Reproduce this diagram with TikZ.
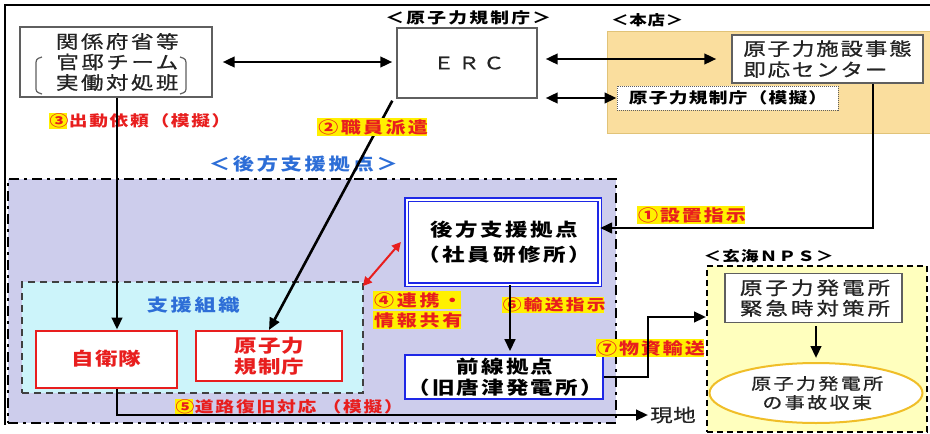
\documentclass[tikz,border=0pt]{standalone}
\usepackage{fontspec}
\setmainfont{Noto Sans CJK JP}[FakeStretch=1.25]
\usetikzlibrary{arrows.meta,shapes.geometric,calc}
\definecolor{honten}{RGB}{250,222,158}
\definecolor{hontenedge}{RGB}{225,195,120}
\definecolor{lav}{RGB}{205,205,236}
\definecolor{cyanbg}{RGB}{204,244,250}
\definecolor{npsbg}{RGB}{255,255,190}
\definecolor{jred}{RGB}{232,30,30}
\definecolor{jblue}{RGB}{45,110,215}
\definecolor{bblue}{RGB}{30,40,230}
\definecolor{hl}{RGB}{255,240,0}
\definecolor{ellc}{RGB}{240,190,40}
\definecolor{gbox}{RGB}{95,95,95}
\definecolor{gtext}{RGB}{35,35,35}
\newcommand\jf[3]{\fontsize{#1}{#2}\selectfont\addfontfeatures{LetterSpace=#3}}
\newcommand\jg[3]{\fontsize{#1}{#2}\selectfont\addfontfeatures{LetterSpace=#3,FakeBold=0.8}}
\newcommand\tk[1]{\kern-#1em}
\begin{document}
\begin{tikzpicture}[x=1pt,y=-1pt,
  every node/.style={inner sep=0pt,align=center},
  arr/.style={line width=2.6pt,-{Triangle[length=12pt,width=10.5pt]}},
  dbl/.style={line width=2.6pt,{Triangle[length=12pt,width=10.5pt]}-{Triangle[length=12pt,width=10.5pt]}},
  graybox/.style={draw=gbox,line width=1.4pt,fill=white,text=gtext},
  redbox/.style={draw=jred,line width=2pt,fill=white,text=jred},
  label/.style={fill=hl,inner sep=1pt,text=jred},
  reds/.style={text=jred},
  blues/.style={text=jblue}]
\useasboundingbox (0,0) rectangle (930,434);
\fill[white] (0,0) rectangle (930,434);
% frame
\draw[line width=2pt] (930,5) -- (5,5) -- (5,425);
% areas
\node[fill=honten,draw=hontenedge,line width=1pt,minimum width=324,minimum height=102] (hon) at (769,82) {};
\node[fill=lav,draw=black,line width=2.4pt,dash pattern=on 10pt off 5pt on 3pt off 5pt,minimum width=608,minimum height=244] (koho) at (312,301) {};
\node[fill=cyanbg,draw=black!75,line width=1.8pt,dash pattern=on 7pt off 5pt,minimum width=341,minimum height=111] (sosiki) at (192.5,337.5) {};
\node[fill=npsbg,draw=black,line width=2pt,dash pattern=on 6pt off 4pt,minimum width=220,minimum height=166] (nps) at (817,349) {};
% area labels
\node[font=\bfseries\jf{15}{18}{15}] (lblnra) at (467,18) {＜原子力規制庁＞\tk{0.15}};
\node[font=\bfseries\jf{14}{18}{5},anchor=west] (lblhonten) at (611,20) {＜本店＞};
\node[blues,font=\bfseries\jf{17}{20}{16}] (lblkoho) at (302,164) {＜後方支援拠点＞\tk{0.16}};
\node[blues,font=\bfseries\jf{17}{21}{15}] (lblsosiki) at (192,305) {支援組織\tk{0.15}};
\node[font=\bfseries\jf{14}{18}{9}] (lblnps) at (768,256) {＜玄海ＮＰＳ＞\tk{0.09}};
% boxes
\node[graybox,minimum width=192,minimum height=70,font=\jg{18}{20.5}{14}] (kan) at (116,62) {関係府省等\tk{0.14}\\官邸チーム\tk{0.14}\\実働対処班\tk{0.14}};
\draw[gbox,line width=1.2pt] (42,57) .. controls (36,59) .. (36,66) -- (36,86) .. controls (36,92) .. (42,94);
\draw[gbox,line width=1.2pt] (180,57) .. controls (186,59) .. (186,66) -- (186,86) .. controls (186,92) .. (180,94);
\node[graybox,minimum width=140,minimum height=70,font=\jg{17}{20}{22}] (erc) at (467,63) {ＥＲＣ\tk{0.22}};
\node[graybox,minimum width=191,minimum height=48,align=left,font=\jg{18}{21}{10}] (cen) at (827.5,59) {原子力施設事態\\即応センター};
\node[draw=gbox,line width=1pt,densely dotted,fill=white,minimum width=221,minimum height=24,font=\bfseries\jf{15}{16}{8}] (dot) at (727.5,98) {原子力規制庁（模擬）\tk{0.08}};
\node[draw=bblue,line width=1.2pt,double=white,double distance=2pt,fill=white,minimum width=193,minimum height=85,font=\bfseries\jf{18}{25}{14}] (kb) at (503,242) {後方支援拠点\tk{0.14}\\（社員研修所）\tk{0.14}};
\node[draw=bblue,line width=1.6pt,fill=white,minimum width=198,minimum height=44,font=\bfseries\jf{18}{21}{12}] (zen) at (504,377) {前線拠点\tk{0.12}\\（旧唐津発電所）\tk{0.12}};
\node[redbox,minimum width=141,minimum height=57,font=\bfseries\jf{18}{21}{5}] (jei) at (106,359) {自衛隊\tk{0.05}};
\node[redbox,minimum width=146,minimum height=50,font=\bfseries\jf{18}{21}{5}] (kisei) at (269,356) {原子力\tk{0.05}\\規制庁\tk{0.05}};
\node[graybox,minimum width=177,minimum height=49,font=\jg{18}{20.5}{17}] (kin) at (813.5,298) {原子力発電所\tk{0.17}\\緊急時対策所\tk{0.17}};
\node[ellipse,draw=ellc,line width=2pt,fill=white,text=gtext,minimum width=213,minimum height=60,font=\jg{16}{19}{15}] (ell) at (816,393) {原子力発電所\tk{0.15}\\の事故収束\tk{0.15}};
% labels
\node[reds,font=\bfseries\jf{15}{17}{11},anchor=west] (l3) at (49,121) {\setlength\fboxsep{0.5pt}\colorbox{hl}{③\tk{0.11}}\kern0.11em 出動依頼（模擬）};
\node[label,font=\bfseries\jf{16}{18}{12}] (l1) at (691,215) {①設置指示\tk{0.12}};
\node[label,font=\bfseries\jf{16}{18}{17},anchor=west] (l4a) at (373,300) {④連携・\tk{0.17}};
\node[label,font=\bfseries\jf{16}{18}{17},anchor=west] (l4b) at (373,320) {情報共有\tk{0.17}};
\node[label,font=\bfseries\jf{15}{17}{15}] (l6) at (553,305) {⑥輸送指示\tk{0.15}};
\node[label,font=\bfseries\jf{16}{18}{12}] (l7) at (650,348) {⑦物資輸送\tk{0.12}};
\node[reds,font=\bfseries\jf{15}{17}{12},anchor=west] (l5) at (175,407) {\setlength\fboxsep{0.5pt}\colorbox{hl}{⑤\tk{0.12}}\kern0.12em 道路復旧対応 （模擬）};
\node[text=gtext,font=\jg{18}{22}{3},anchor=west] (genchi) at (650,415) {現地};
% connectors
\draw[dbl,shorten <=10pt,shorten >=4pt] (kan.east) -- (erc.west |- kan.east);
\draw[dbl,shorten <=8pt,shorten >=15pt] (erc.east |- cen.west) -- (cen.west);
\draw[dbl,shorten <=8pt] (erc.east |- dot.west) -- (dot.west);
\coordinate (c1) at (873,228);
\draw[arr] (cen.south -| c1) -- (c1) -- (c1 -| kb.east);
\draw[arr] ([xshift=1pt]kan.south) -- ([xshift=1pt]kan.south |- jei.north);
\draw[arr] ([shift={(-4pt,-2pt)}]erc.south west) -- (kisei.north);
\node[label,font=\bfseries\jf{16}{18}{15}] (l2) at (372,127) {②職員派遣\tk{0.15}};
\draw[jred,line width=2pt,{Triangle[length=9pt,width=9pt]}-{Triangle[length=9pt,width=9pt]}] ([shift={(-1pt,-5pt)}]sosiki.north east) -- ([xshift=-5pt]kb.west);
\coordinate (x6) at (510,0);
\draw[arr,shorten >=3pt] (kb.south -| x6) -- (zen.north -| x6);
\coordinate (t7) at (706,317);
\draw[arr] (zen.east) -- ++(44,0) |- (t7);
\draw[arr,shorten <=3pt,shorten >=4pt] (kin.south -| ell.north) -- (ell.north);
\coordinate (g1) at (117,415);
\draw[arr] (jei.south -| g1) -- (g1) -- ([xshift=-2pt]genchi.west);
\end{tikzpicture}
\end{document}
